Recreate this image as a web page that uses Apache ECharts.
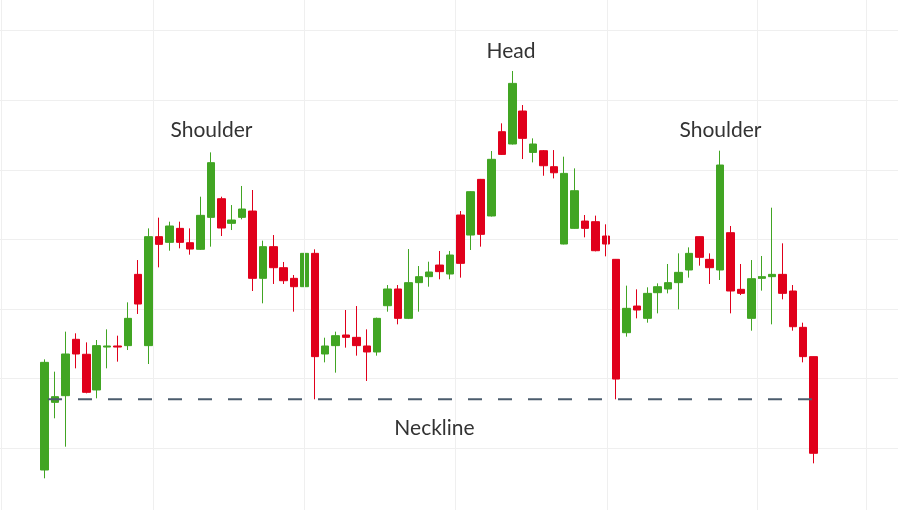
<!DOCTYPE html>
<html><head><meta charset="utf-8">
<script src="https://cdn.jsdelivr.net/npm/echarts@6/dist/echarts.min.js"></script>
<style>html,body{margin:0;padding:0;background:#fff}#c{width:898px;height:510px}</style>
</head><body><div id="c"></div>
<script>
// ---- data ----
const categories = ['1','2','3','4','5','6','7','8','9','10','11','12','13','14','15','16','17','18','19','20','21','22','23','24','25','26','27','28','29','30','31','32','33','34','35','36','37','38','39','40','41','42','43','44','45','46','47','48','49','50','51','52','53','54','55','56','57','58','59','60','61','62','63','64','65','66','67','68','69','70','71','72','73','74','75'];
const openVals  = [96.88,106.60,107.56,115.66,113.51,108.38,114.55,114.70,114.75,124.99,114.75,130.41,129.59,131.60,129.54,128.59,133.18,135.86,132.32,133.18,134.09,124.42,128.97,125.95,124.42,123.22,128.01,113.55,114.75,116.28,115.94,114.70,113.84,120.49,122.89,118.67,123.80,124.66,126.33,125.04,133.52,130.64,138.64,133.38,145.49,143.72,148.46,142.51,142.76,140.46,129.35,131.60,132.65,132.56,130.50,127.15,116.61,120.44,118.67,122.36,122.89,123.80,125.62,130.41,127.15,125.62,130.98,122.84,118.67,124.42,124.66,124.99,122.60,117.38,113.17];
const closeVals = [112.35,107.42,113.55,113.55,108.04,114.75,114.70,114.55,118.67,120.73,130.41,129.30,131.94,129.59,128.63,133.47,141.04,131.65,132.80,134.38,124.42,128.97,125.95,124.08,123.22,128.01,113.17,114.70,116.18,115.94,114.75,113.84,118.67,122.89,118.67,123.80,124.66,125.33,125.38,127.77,126.57,136.87,130.74,141.52,142.23,152.43,144.53,143.72,140.60,139.59,139.50,137.01,131.60,128.39,129.35,109.95,120.11,119.87,122.26,123.22,123.80,125.28,128.01,127.44,125.95,140.70,122.60,122.26,124.37,124.66,124.99,122.26,117.47,113.17,99.28];
const lowVals   = [95.69,104.31,100.23,111.49,107.90,107.18,111.49,112.45,114.12,119.30,112.11,126.00,128.39,128.73,127.82,128.49,128.97,130.50,131.36,132.90,122.60,120.83,123.61,123.61,119.63,121.40,107.04,112.35,110.87,114.46,113.31,109.67,113.31,119.63,117.81,118.57,119.63,123.22,124.28,124.28,124.52,128.49,128.97,133.30,142.15,143.65,141.56,141.08,139.16,138.78,129.30,131.55,130.31,128.30,127.58,107.04,116.04,118.67,118.05,119.39,122.26,119.97,124.52,126.24,123.61,124.18,119.39,122.02,116.90,122.65,117.81,121.40,116.90,112.35,97.84];
const highVals  = [112.78,111.01,116.76,116.52,115.22,115.56,117.09,116.18,120.97,127.05,131.60,133.14,132.56,132.56,131.60,136.15,142.52,136.15,134.95,137.69,137.11,129.83,130.64,126.77,124.90,129.21,128.59,115.89,116.76,119.87,120.44,117.09,118.77,123.46,123.46,128.63,126.19,126.81,128.35,128.35,134.09,136.95,138.70,142.71,146.69,154.21,149.32,144.53,142.85,142.85,141.90,140.22,133.52,133.43,132.18,127.20,123.37,122.84,123.13,123.70,126.48,128.01,128.87,130.45,128.01,142.76,131.94,126.48,127.05,127.63,134.57,129.45,123.46,118.05,113.20];
const necklineLevel = 107.04;
const annotations = [
  {text: 'Shoulder', x: 211.5, y: 130},
  {text: 'Head',     x: 511,   y: 51},
  {text: 'Shoulder', x: 720.5, y: 130},
  {text: 'Neckline', x: 434.5, y: 428}
];
// ---- layout ----
const yMin = 90, yMax = 170, yStep = 10;
const plotTop = -38.9, plotHeight = 556.8;
const candleLeft = 39.5, candleWidth = 779.3;
const canvasW = 898;
const vGridX = [1.5, 153.5, 304.7, 455.6, 607, 757.7, 866.7];
const neckStartX = 48, neckEndX = 822;

const GREEN = '#41a523', RED = '#e0001b', GRID = '#efefef';

const candleData = categories.map((c, i) => [openVals[i], closeVals[i], lowVals[i], highVals[i]]);

const chart = echarts.init(document.getElementById('c'), null, {renderer: 'canvas'});
chart.setOption({
  backgroundColor: '#ffffff',
  animation: false,
  grid: [
    {left: 0, width: canvasW, top: plotTop, height: plotHeight, outerBoundsMode: 'none', containLabel: false},
    {left: candleLeft, width: candleWidth, top: plotTop, height: plotHeight, outerBoundsMode: 'none', containLabel: false}
  ],
  xAxis: [
    {type: 'value', gridIndex: 0, min: 0, max: canvasW, show: false, splitLine: {show: false}},
    {type: 'category', gridIndex: 1, data: categories, boundaryGap: true,
     axisLine: {show: false}, axisTick: {show: false}, axisLabel: {show: false}, splitLine: {show: false}}
  ],
  yAxis: [
    {type: 'value', gridIndex: 0, min: yMin, max: yMax, interval: yStep,
     axisLine: {show: false}, axisTick: {show: false}, axisLabel: {show: false},
     splitLine: {show: true, lineStyle: {color: GRID, width: 1}}},
    {type: 'value', gridIndex: 1, min: yMin, max: yMax, interval: yStep, show: false,
     splitLine: {show: false}}
  ],
  series: [
    {
      type: 'scatter', xAxisIndex: 0, yAxisIndex: 0, data: [[0, yMin]], symbolSize: 0, silent: true, z: 1,
      markLine: {
        silent: true, symbol: ['none', 'none'], label: {show: false},
        lineStyle: {color: GRID, type: 'solid', width: 1},
        data: vGridX.map(v => ({xAxis: v}))
      }
    },
    {
      type: 'candlestick', xAxisIndex: 1, yAxisIndex: 1, data: candleData, barWidth: 8, z: 3,
      itemStyle: {color: GREEN, color0: RED, borderColor: GREEN, borderColor0: RED, borderWidth: 1}
    },
    {
      type: 'line', xAxisIndex: 0, yAxisIndex: 0, z: 5, silent: true, symbol: 'none',
      data: [[neckStartX, necklineLevel], [neckEndX, necklineLevel]],
      lineStyle: {color: '#4b5c6d', width: 2, type: [14, 16]}
    }
  ],
  graphic: annotations.map(a => ({
    type: 'text', x: a.x, y: a.y, z: 10, silent: true,
    style: {text: a.text, fill: '#333333', font: '21px Lato', align: 'center', verticalAlign: 'middle'}
  }))
});
</script></body></html>
